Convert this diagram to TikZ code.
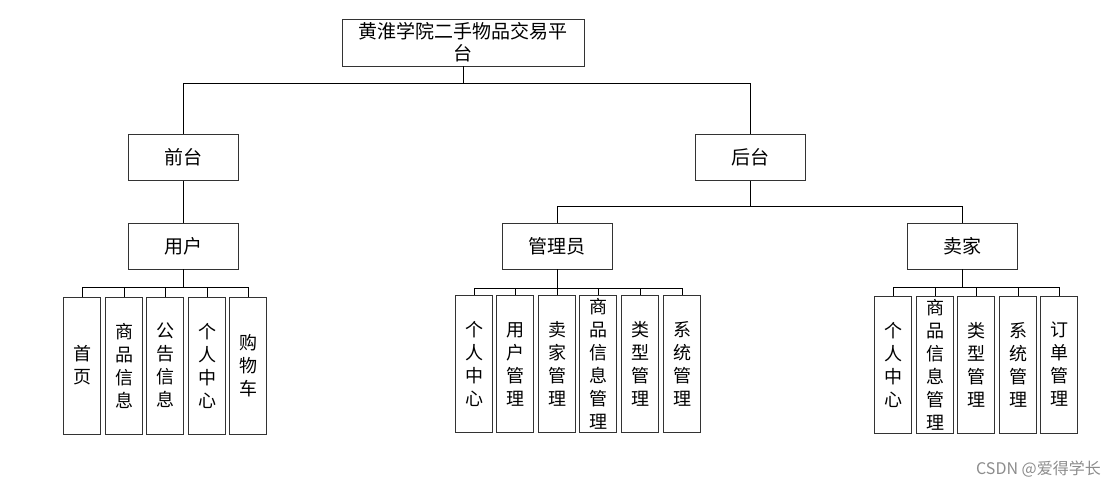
\documentclass[tikz,border=0pt]{standalone}
\usepackage{fontspec}
\setmainfont{Noto Sans CJK SC}
\begin{document}
\begin{tikzpicture}[x=1pt,y=-1pt,
  box/.style={draw=black!80,line width=0.9pt,fill=white,inner sep=0pt,minimum width=110pt,minimum height=46pt,font=\fontsize{19}{22}\selectfont},
  leaf/.style={draw=black!80,line width=1pt,fill=white,inner sep=0pt,minimum width=37pt,minimum height=137pt,align=center,font=\fontsize{18}{23}\selectfont},
  conn/.style={draw=black,line width=0.9pt}]
\useasboundingbox (0,0) rectangle (1117,490);
% top
\node[box,minimum width=242pt,minimum height=47pt,align=center] (top) at (463,42.5) {黄淮学院二手物品交易平\\台};
\node[box] (qt) at (183,157.5) {前台};
\node[box] (ht) at (750,157.5) {后台};
\node[box] (yh) at (183,246) {用户};
\node[box] (gly) at (557,246) {管理员};
\node[box] (mj) at (962,246) {卖家};
% user leaves
\node[leaf] (u1) at (82,365.5) {首\\页};
\node[leaf] (u2) at (124,365.5) {商\\品\\信\\息};
\node[leaf] (u3) at (165,365.5) {公\\告\\信\\息};
\node[leaf] (u4) at (207,365.5) {个\\人\\中\\心};
\node[leaf] (u5) at (248,365.5) {购\\物\\车};
% admin leaves
\node[leaf] (a1) at (474,364) {个\\人\\中\\心};
\node[leaf] (a2) at (515,364) {用\\户\\管\\理};
\node[leaf] (a3) at (557,364) {卖\\家\\管\\理};
\node[leaf] (a4) at (598,364) {商\\品\\信\\息\\管\\理};
\node[leaf] (a5) at (640,364) {类\\型\\管\\理};
\node[leaf] (a6) at (682,364) {系\\统\\管\\理};
% seller leaves
\node[leaf] (s1) at (893,364.5) {个\\人\\中\\心};
\node[leaf] (s2) at (935,364.5) {商\\品\\信\\息\\管\\理};
\node[leaf] (s3) at (976,364.5) {类\\型\\管\\理};
\node[leaf] (s4) at (1018,364.5) {系\\统\\管\\理};
\node[leaf] (s5) at (1059,364.5) {订\\单\\管\\理};
% connectors
\draw[conn] (top.south) -- ++(0,17) coordinate (b0);
\draw[conn] (b0) -| (qt.north);
\draw[conn] (b0) -| (ht.north);
\draw[conn] (qt.south) -- (yh.north);
\draw[conn] (ht.south) -- ++(0,25) coordinate (b1);
\draw[conn] (b1) -| (gly.north);
\draw[conn] (b1) -| (mj.north);
\draw[conn] (yh.south) -- ++(0,18) coordinate (bu);
\foreach \n in {u1,u2,u3,u4,u5} \draw[conn] (bu) -| (\n.north);
\draw[conn] (gly.south) -- ++(0,19) coordinate (ba);
\foreach \n in {a1,a2,a3,a4,a5,a6} \draw[conn] (ba) -| (\n.north);
\draw[conn] (mj.south) -- ++(0,18) coordinate (bs);
\foreach \n in {s1,s2,s3,s4,s5} \draw[conn] (bs) -| (\n.north);
% watermark
\node[text=black!45,font=\fontsize{16}{16}\selectfont,anchor=east,inner sep=0pt] (wm) at (1101,469) {CSDN @爱得学长};
\end{tikzpicture}
\end{document}
